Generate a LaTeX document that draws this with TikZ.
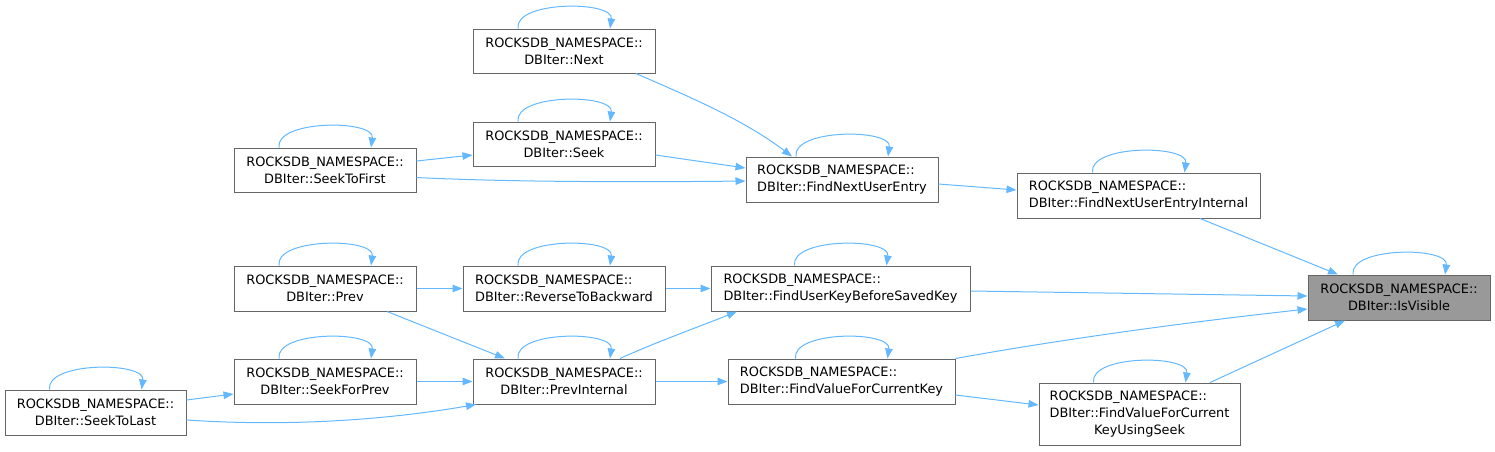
\documentclass[tikz,border=0pt]{standalone}
\usepackage{fontspec}
\setmainfont{DejaVu Sans}
\usetikzlibrary{arrows.meta}
\definecolor{edgeblue}{HTML}{63B8FF}
\definecolor{boxborder}{HTML}{666666}
\definecolor{hilite}{HTML}{999999}
\newcommand\selfloop[1]{\draw[callarrow] ([xshift=-46pt]#1.north) .. controls +(-4,-28) and +(4,-28) .. ([xshift=46pt]#1.north);}
\begin{document}
\begin{tikzpicture}[x=1pt,y=-1pt,
  fn/.style={draw=boxborder, fill=white, line width=1pt, inner sep=0pt,
    font=\fontsize{12.9}{17}\selectfont},
  fnc/.style={fn, align=center},
  fnl/.style={fn, align=left},
  callarrow/.style={draw=edgeblue, line width=1pt, -{Triangle[length=10pt,width=7.5pt]}}]
\useasboundingbox (0,0) rectangle (1495,451);

\node[fnc, minimum width=182, minimum height=44] (next) at (564,51) {ROCKSDB\_NAMESPACE::\\DBIter::Next};
\node[fnc, minimum width=182, minimum height=44] (seek) at (564,144) {ROCKSDB\_NAMESPACE::\\DBIter::Seek};
\node[fnc, minimum width=182, minimum height=44] (stf) at (325,170) {ROCKSDB\_NAMESPACE::\\DBIter::SeekToFirst};
\node[fnl, minimum width=192, minimum height=45] (fnue) at (842,179.5) {ROCKSDB\_NAMESPACE::\\DBIter::FindNextUserEntry};
\node[fnl, minimum width=243, minimum height=45] (fnuei) at (1138.5,195.5) {ROCKSDB\_NAMESPACE::\\DBIter::FindNextUserEntryInternal};
\node[fnc, fill=hilite, minimum width=182, minimum height=45] (isv) at (1399,297.5) {ROCKSDB\_NAMESPACE::\\DBIter::IsVisible};
\node[fnl, minimum width=259, minimum height=45] (fukbsk) at (840.5,288.5) {ROCKSDB\_NAMESPACE::\\DBIter::FindUserKeyBeforeSavedKey};
\node[fnl, minimum width=202, minimum height=45] (rtb) at (564,288.5) {ROCKSDB\_NAMESPACE::\\DBIter::ReverseToBackward};
\node[fnc, minimum width=182, minimum height=45] (prev) at (325,288.5) {ROCKSDB\_NAMESPACE::\\DBIter::Prev};
\node[fnc, minimum width=182, minimum height=45] (pi) at (564,381.5) {ROCKSDB\_NAMESPACE::\\DBIter::PrevInternal};
\node[fnc, minimum width=182, minimum height=45] (sfp) at (325,381.5) {ROCKSDB\_NAMESPACE::\\DBIter::SeekForPrev};
\node[fnl, minimum width=227, minimum height=45] (fvfck) at (841.5,381.5) {ROCKSDB\_NAMESPACE::\\DBIter::FindValueForCurrentKey};
\node[fn, minimum width=201, minimum height=62] (fvfckus) at (1139.5,414) {\renewcommand\arraystretch{1}\begin{tabular}{@{}l@{}}ROCKSDB\_NAMESPACE::\\DBIter::FindValueForCurrent\\\multicolumn{1}{@{}c@{}}{KeyUsingSeek}\end{tabular}};
\node[fnc, minimum width=181, minimum height=45] (stl) at (95.5,412.5) {ROCKSDB\_NAMESPACE::\\DBIter::SeekToLast};

% self loops
\foreach \n in {next,seek,stf,fnue,fnuei,isv,fukbsk,rtb,prev,pi,sfp,fvfck,fvfckus,stl}{\selfloop{\n}}

% edges
\draw[callarrow] ([xshift=72pt]next.south) .. controls +(50,22) and +(-50,-38) .. ([xshift=-50pt]fnue.north);
\draw[callarrow] ([yshift=-11pt]seek.east) -- ([yshift=11.5pt]fnue.west);
\draw[callarrow] ([yshift=9pt]stf.east) -- ([yshift=-11pt]seek.west);
\draw[callarrow] ([yshift=-7.5pt]stf.east) .. controls +(100,5) and +(-90,1) .. ([yshift=-1.5pt]fnue.west);
\draw[callarrow] ([yshift=-4.5pt]fnue.east) -- ([yshift=5.5pt]fnuei.west);
\draw[callarrow] ([xshift=61.5pt]fnuei.south) -- ([xshift=-61pt]isv.north);
\draw[callarrow] ([yshift=-2.5pt]fukbsk.east) -- ([yshift=1.5pt]isv.west);
\draw[callarrow] (fvfck.north east) .. controls +(110,-20) and +(-110,12) .. ([yshift=-11.5pt]isv.west);
\draw[callarrow] ([xshift=70.5pt]fvfckus.north) -- ([xshift=-54pt]isv.south);
\draw[callarrow] (prev.east) -- (rtb.west);
\draw[callarrow] (rtb.east) -- (fukbsk.west);
\draw[callarrow] ([xshift=62pt]prev.south) -- ([xshift=-59pt]pi.north);
\draw[callarrow] ([xshift=56pt]pi.north) .. controls +(35,-16) and +(-40,16) .. ([xshift=-103.5pt]fukbsk.south);
\draw[callarrow] (sfp.east) -- (pi.west);
\draw[callarrow] (pi.east) -- (fvfck.west);
\draw[callarrow] ([yshift=-13.5pt]fvfck.east) -- ([yshift=9pt]fvfckus.west);
\draw[callarrow] ([yshift=12.5pt]stl.east) -- ([yshift=-12.5pt]sfp.west);
\draw[callarrow] ([yshift=-7.5pt]stl.east) .. controls +(120,8) and +(-70,12) .. ([xshift=-88pt]pi.south);
\end{tikzpicture}
\end{document}
